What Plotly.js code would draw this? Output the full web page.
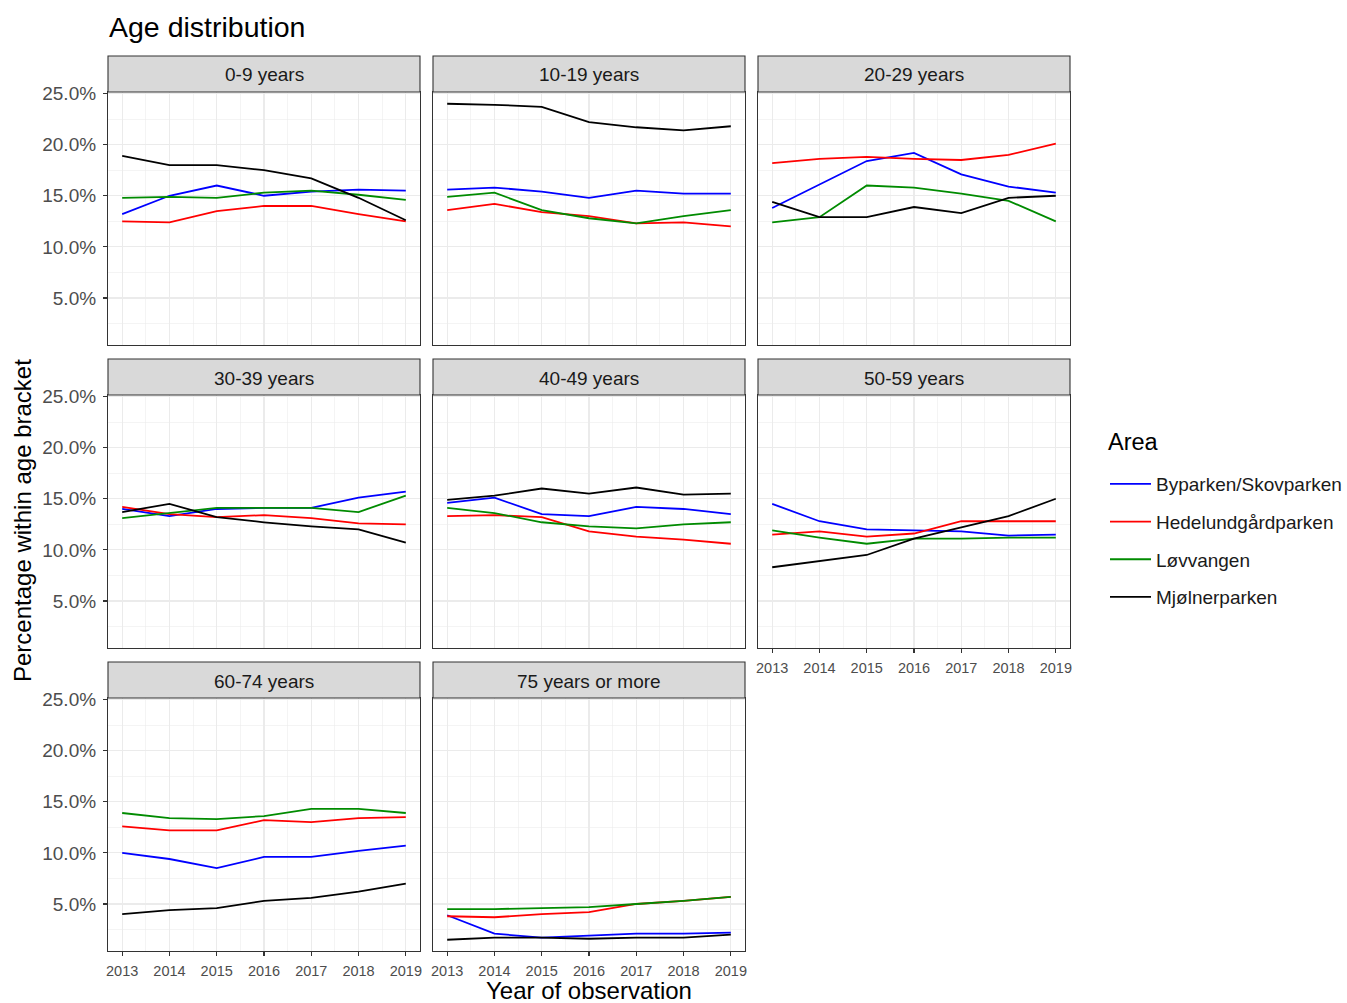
<!DOCTYPE html>
<html><head><meta charset="utf-8">
<script src="https://cdn.plot.ly/plotly-3.0.1.min.js"></script>
<style>html,body{margin:0;padding:0;background:#fff}#chart{width:1347px;height:1003px}</style>
</head><body><div id="chart"></div>
<script>
const years = [2013, 2014, 2015, 2016, 2017, 2018, 2019];
const brackets = ['0-9 years', '10-19 years', '20-29 years', '30-39 years', '40-49 years', '50-59 years', '60-74 years', '75 years or more'];
const areas = ['Byparken/Skovparken', 'Hedelundgårdparken', 'Løvvangen', 'Mjølnerparken'];
const areaColors = ['#0000FF', '#FF0000', '#008B00', '#000000'];
const legendTitle = 'Area';
const yTicks = [5, 10, 15, 20, 25];
const yMinor = [2.5, 7.5, 12.5, 17.5, 22.5];
const xMinor = [2013.5, 2014.5, 2015.5, 2016.5, 2017.5, 2018.5];
// percentage values, one row per age bracket (in bracket order), one column per year
const byparken = [
  [13.2, 15.0, 16.0, 15.0, 15.4, 15.6, 15.5],
  [15.6, 15.8, 15.4, 14.8, 15.5, 15.2, 15.2],
  [13.8, 16.1, 18.4, 19.2, 17.1, 15.9, 15.3],
  [14.0, 13.3, 14.0, 14.1, 14.1, 15.1, 15.7],
  [14.6, 15.1, 13.5, 13.3, 14.2, 14.0, 13.5],
  [14.5, 12.8, 12.0, 11.9, 11.8, 11.4, 11.5],
  [10.0, 9.4, 8.5, 9.6, 9.6, 10.2, 10.7],
  [3.9, 2.1, 1.7, 1.9, 2.1, 2.1, 2.2]
];
const hedelund = [
  [12.5, 12.4, 13.5, 14.0, 14.0, 13.2, 12.5],
  [13.6, 14.2, 13.4, 13.0, 12.3, 12.4, 12.0],
  [18.2, 18.6, 18.8, 18.6, 18.5, 19.0, 20.1],
  [14.2, 13.5, 13.2, 13.4, 13.1, 12.6, 12.5],
  [13.3, 13.4, 13.2, 11.8, 11.3, 11.0, 10.6],
  [11.5, 11.8, 11.3, 11.6, 12.8, 12.8, 12.8],
  [12.6, 12.2, 12.2, 13.2, 13.0, 13.4, 13.5],
  [3.8, 3.7, 4.0, 4.2, 5.0, 5.3, 5.7]
];
const lovvangen = [
  [14.8, 14.9, 14.8, 15.3, 15.5, 15.1, 14.6],
  [14.9, 15.3, 13.6, 12.8, 12.3, 13.0, 13.6],
  [12.4, 12.9, 16.0, 15.8, 15.2, 14.5, 12.5],
  [13.1, 13.6, 14.1, 14.1, 14.1, 13.7, 15.3],
  [14.1, 13.6, 12.7, 12.3, 12.1, 12.5, 12.7],
  [11.9, 11.2, 10.6, 11.1, 11.1, 11.2, 11.2],
  [13.9, 13.4, 13.3, 13.6, 14.3, 14.3, 13.9],
  [4.5, 4.5, 4.6, 4.7, 5.0, 5.3, 5.7]
];
const mjolner = [
  [18.9, 18.0, 18.0, 17.5, 16.7, 14.8, 12.6],
  [24.0, 23.9, 23.7, 22.2, 21.7, 21.4, 21.8],
  [14.4, 12.9, 12.9, 13.9, 13.3, 14.8, 15.0],
  [13.7, 14.5, 13.2, 12.7, 12.3, 12.0, 10.7],
  [14.9, 15.3, 16.0, 15.5, 16.1, 15.4, 15.5],
  [8.3, 8.9, 9.5, 11.1, 12.2, 13.3, 15.0],
  [4.0, 4.4, 4.6, 5.3, 5.6, 6.2, 7.0],
  [1.5, 1.7, 1.7, 1.6, 1.7, 1.7, 2.0]
];
const seriesByArea = [byparken, hedelund, lovvangen, mjolner];

const W = 1347, H = 1003;
const FONT = 'Liberation Sans, Arial, Helvetica, sans-serif';
const colX = [[108, 420], [433, 745], [758, 1070]];
const rowY = [[92, 345], [395, 648], [698, 951]];
const stripH = 36;
const fx = px => px / W;
const fy = py => 1 - py / H;

const traces = [];
const layout = {
  width: W, height: H,
  margin: {l: 0, r: 0, t: 0, b: 0},
  paper_bgcolor: '#FFFFFF', plot_bgcolor: '#FFFFFF',
  font: {family: FONT, color: '#000000'},
  showlegend: true,
  legend: {
    x: fx(1105), y: fy(465), xanchor: 'left', yanchor: 'top',
    font: {size: 19, color: '#1A1A1A', family: FONT},
    bgcolor: 'rgba(0,0,0,0)', tracegroupgap: 10, itemwidth: 41
  },
  shapes: [], annotations: []
};

brackets.forEach((br, p) => {
  const r = Math.floor(p / 3), c = p % 3;
  const n = p + 1;
  const xa = 'xaxis' + (n === 1 ? '' : n), ya = 'yaxis' + (n === 1 ? '' : n);
  const xr = 'x' + (n === 1 ? '' : n), yr = 'y' + (n === 1 ? '' : n);
  const bottomOfCol = (p + 3 >= brackets.length);
  const leftCol = (c === 0);
  layout[xa] = {
    domain: [fx(colX[c][0]), fx(colX[c][1])], anchor: yr,
    range: [2012.7, 2019.3], tickmode: 'array', tickvals: years, ticktext: years.map(String),
    showgrid: true, gridcolor: '#EBEBEB', gridwidth: 1.1, zeroline: false,
    minor: {tickmode: 'array', tickvals: xMinor, showgrid: true, gridcolor: '#EBEBEB', gridwidth: 0.55, ticks: ''},
    showline: true, mirror: true, linecolor: '#333333', linewidth: 1.1,
    showticklabels: bottomOfCol, ticks: bottomOfCol ? 'outside' : '',
    ticklen: 4, tickwidth: 1.1, tickcolor: '#333333',
    tickfont: {size: 14.5, color: '#4D4D4D', family: FONT}, ticklabelstandoff: 2
  };
  layout[ya] = {
    domain: [fy(rowY[r][1]), fy(rowY[r][0])], anchor: xr,
    range: [0.4, 25.15], tickmode: 'array', tickvals: yTicks, ticktext: yTicks.map(v => v.toFixed(1) + '%'),
    showgrid: true, gridcolor: '#EBEBEB', gridwidth: 1.1, zeroline: false,
    minor: {tickmode: 'array', tickvals: yMinor, showgrid: true, gridcolor: '#EBEBEB', gridwidth: 0.55, ticks: ''},
    showline: true, mirror: true, linecolor: '#333333', linewidth: 1.1,
    showticklabels: leftCol, ticks: leftCol ? 'outside' : '',
    ticklen: 4, tickwidth: 1.1, tickcolor: '#333333',
    tickfont: {size: 19, color: '#4D4D4D', family: FONT}, ticklabelstandoff: 3
  };
  areas.forEach((a, k) => {
    traces.push({
      type: 'scatter', mode: 'lines', x: years, y: seriesByArea[k][p],
      xaxis: xr, yaxis: yr, name: a, legendgroup: a, showlegend: p === 0,
      line: {color: areaColors[k], width: 1.8}, hoverinfo: 'x+y+name'
    });
  });
  // strip
  layout.shapes.push({
    type: 'rect', xref: 'paper', yref: 'paper',
    x0: fx(colX[c][0]), x1: fx(colX[c][1]),
    y0: fy(rowY[r][0]), y1: fy(rowY[r][0] - stripH),
    fillcolor: '#D9D9D9', line: {color: '#333333', width: 1.1}, layer: 'above'
  });
  layout.annotations.push({
    xref: 'paper', yref: 'paper', x: fx((colX[c][0] + colX[c][1]) / 2), y: fy(rowY[r][0] - stripH / 2 + 1),
    xanchor: 'center', yanchor: 'middle', showarrow: false, text: br,
    font: {size: 19, color: '#1A1A1A', family: FONT}
  });
});

layout.annotations.push({
  xref: 'paper', yref: 'paper', x: fx(1106), y: fy(442), xanchor: 'left', yanchor: 'middle',
  showarrow: false, text: legendTitle, font: {size: 23.5, color: '#000000', family: FONT}
});
layout.annotations.push({
  xref: 'paper', yref: 'paper', x: fx(107), y: fy(27), xanchor: 'left', yanchor: 'middle',
  showarrow: false, text: 'Age distribution', font: {size: 28.5, color: '#000000', family: FONT}
});
layout.annotations.push({
  xref: 'paper', yref: 'paper', x: fx(589), y: fy(990), xanchor: 'center', yanchor: 'middle',
  showarrow: false, text: 'Year of observation', font: {size: 24, color: '#000000', family: FONT}
});
layout.annotations.push({
  xref: 'paper', yref: 'paper', x: fx(22), y: fy(521), xanchor: 'center', yanchor: 'middle',
  showarrow: false, textangle: -90, text: 'Percentage within age bracket', font: {size: 24, color: '#000000', family: FONT}
});

Plotly.newPlot('chart', traces, layout, {displayModeBar: false, staticPlot: true});
</script>
</body></html>
